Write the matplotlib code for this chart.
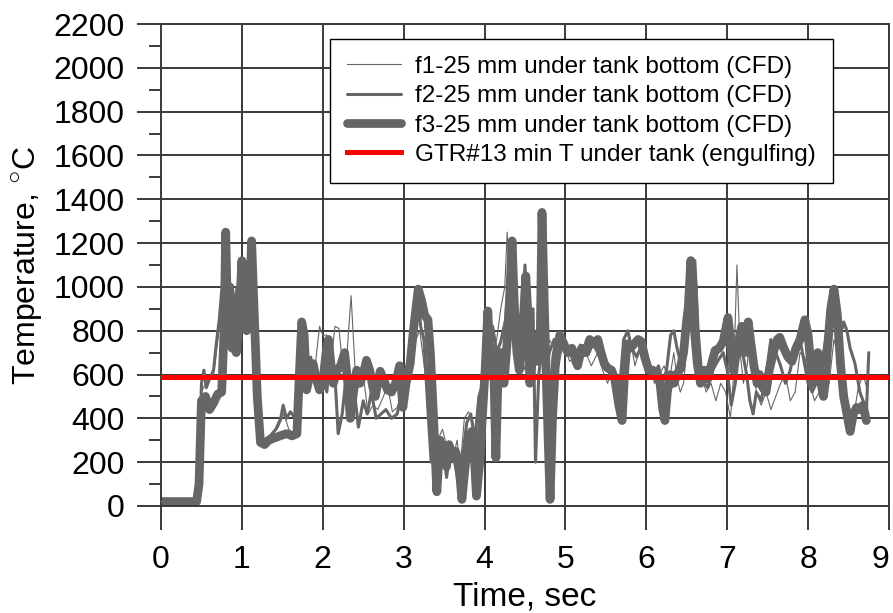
import matplotlib
matplotlib.use("Agg")
import matplotlib.pyplot as plt
from matplotlib.ticker import MultipleLocator

plt.rcParams["font.family"] = ["Liberation Sans", "DejaVu Sans"]
plt.rcParams["mathtext.fontset"] = "custom"
plt.rcParams["mathtext.rm"] = "Liberation Sans"

# ============================
# DATA
# ============================

f3_t = [0.00, 0.44, 0.47, 0.50, 0.55, 0.60, 0.65, 0.70, 0.75, 0.78, 0.80, 0.82, 0.85, 0.88, 0.90,
        0.93, 0.96, 1.00, 1.03, 1.06, 1.10, 1.12, 1.15, 1.19, 1.23, 1.28, 1.33, 1.40, 1.47, 1.55,
        1.62, 1.68, 1.71, 1.74, 1.77, 1.80, 1.84, 1.88, 1.92, 1.96, 2.00, 2.04, 2.07, 2.10, 2.13,
        2.18, 2.22, 2.27, 2.31, 2.34, 2.38, 2.42, 2.46, 2.50, 2.54, 2.58, 2.62, 2.65, 2.68, 2.71,
        2.75, 2.80, 2.85, 2.90, 2.95, 2.99, 3.03, 3.08, 3.12, 3.18, 3.22, 3.26, 3.30, 3.33, 3.37,
        3.41, 3.45, 3.49, 3.53, 3.56, 3.60, 3.64, 3.68, 3.72, 3.76, 3.80, 3.84, 3.87, 3.90, 3.94,
        3.98, 4.01, 4.04, 4.08, 4.11, 4.14, 4.17, 4.20, 4.24, 4.28, 4.31, 4.34, 4.37, 4.40, 4.43,
        4.46, 4.48, 4.51, 4.54, 4.56, 4.60, 4.63, 4.66, 4.69, 4.71, 4.74, 4.77, 4.81, 4.84, 4.88,
        4.93, 4.98, 5.03, 5.08, 5.12, 5.15, 5.20, 5.25, 5.30, 5.35, 5.40, 5.44, 5.48, 5.52, 5.57,
        5.61, 5.66, 5.70, 5.73, 5.76, 5.80, 5.85, 5.90, 5.94, 5.98, 6.03, 6.08, 6.13, 6.17, 6.20,
        6.23, 6.26, 6.30, 6.34, 6.38, 6.42, 6.46, 6.50, 6.52, 6.55, 6.58, 6.60, 6.63, 6.67, 6.72,
        6.76, 6.80, 6.85, 6.90, 6.95, 7.01, 7.04, 7.07, 7.10, 7.14, 7.18, 7.22, 7.26, 7.29, 7.33,
        7.37, 7.40, 7.44, 7.48, 7.52, 7.57, 7.62, 7.65, 7.70, 7.75, 7.80, 7.85, 7.90, 7.96, 8.00,
        8.03, 8.06, 8.09, 8.12, 8.16, 8.19, 8.21, 8.24, 8.28, 8.32, 8.36, 8.40, 8.44, 8.48, 8.52,
        8.56, 8.60, 8.64, 8.68, 8.72]
f3_T = [20, 20, 100, 480, 500, 440, 470, 510, 520, 800, 1250, 900, 1000, 720, 950,
        700, 820, 1120, 850, 800, 1000, 1210, 900, 500, 290, 280, 300, 310, 320, 330,
        320, 330, 600, 840, 780, 530, 600, 650, 580, 530, 560, 700, 760, 650, 560,
        620, 640, 700, 560, 400, 520, 620, 560, 600, 665, 620, 540, 500, 560, 615,
        580, 530, 520, 560, 640, 450, 560, 650, 800, 990, 940, 870, 850, 700, 400,
        65, 300, 220, 180, 280, 230, 250, 200, 30, 180, 300, 340, 250, 45, 200,
        450, 640, 890, 600, 700, 220, 650, 700, 560, 750, 950, 1210, 900, 700, 620,
        720, 850, 1050, 850, 560, 700, 780, 660, 800, 1340, 900, 500, 30, 400, 680,
        780, 740, 700, 720, 680, 640, 720, 700, 760, 740, 760, 700, 650, 630, 620,
        580, 460, 390, 600, 740, 720, 740, 760, 750, 680, 620, 620, 590, 560, 450,
        390, 520, 600, 560, 600, 630, 700, 850, 910, 1120, 1000, 780, 650, 560, 620,
        580, 640, 710, 720, 750, 860, 760, 620, 680, 750, 820, 700, 840, 750, 640,
        560, 600, 540, 520, 620, 700, 760, 770, 720, 680, 660, 720, 760, 850, 780,
        660, 560, 620, 700, 560, 500, 560, 720, 900, 990, 880, 650, 500, 420, 340,
        420, 450, 440, 460, 390]

f2_t = [0.00, 0.44, 0.47, 0.50, 0.53, 0.56, 0.60, 0.65, 0.68, 0.72, 0.75, 0.78, 0.82, 0.86, 0.90,
        0.94, 0.98, 1.02, 1.06, 1.10, 1.13, 1.18, 1.23, 1.28, 1.35, 1.42, 1.48, 1.51, 1.55, 1.60,
        1.66, 1.70, 1.73, 1.76, 1.80, 1.85, 1.90, 1.95, 2.00, 2.05, 2.10, 2.15, 2.19, 2.24, 2.28,
        2.33, 2.38, 2.44, 2.50, 2.55, 2.60, 2.66, 2.72, 2.78, 2.85, 2.92, 2.98, 3.03, 3.08, 3.12,
        3.17, 3.21, 3.25, 3.30, 3.34, 3.38, 3.43, 3.48, 3.53, 3.58, 3.63, 3.68, 3.72, 3.78, 3.83,
        3.88, 3.93, 3.98, 4.02, 4.06, 4.10, 4.15, 4.20, 4.26, 4.30, 4.35, 4.40, 4.45, 4.50, 4.55,
        4.60, 4.63, 4.67, 4.72, 4.76, 4.80, 4.86, 4.92, 4.98, 5.05, 5.10, 5.16, 5.22, 5.28, 5.34,
        5.40, 5.45, 5.50, 5.56, 5.62, 5.68, 5.72, 5.77, 5.82, 5.88, 5.95, 6.00, 6.05, 6.10, 6.15,
        6.20, 6.25, 6.30, 6.34, 6.38, 6.42, 6.46, 6.50, 6.55, 6.60, 6.64, 6.68, 6.72, 6.76, 6.82,
        6.88, 6.95, 7.00, 7.05, 7.10, 7.15, 7.20, 7.24, 7.28, 7.32, 7.36, 7.42, 7.48, 7.54, 7.60,
        7.66, 7.72, 7.78, 7.84, 7.90, 7.95, 8.00, 8.05, 8.10, 8.15, 8.20, 8.26, 8.30, 8.35, 8.40,
        8.44, 8.48, 8.52, 8.58, 8.64, 8.68, 8.72, 8.75]
f2_T = [20, 20, 150, 560, 620, 540, 580, 620, 730, 850, 980, 1000, 920, 960, 880,
        1000, 880, 980, 900, 1100, 980, 600, 320, 300, 320, 350, 400, 460, 400, 430,
        400, 580, 800, 700, 620, 680, 560, 560, 600, 520, 720, 600, 330, 420, 560,
        400, 560, 360, 480, 420, 520, 400, 420, 440, 400, 420, 520, 580, 600, 850,
        990, 820, 760, 440, 200, 380, 280, 300, 130, 260, 200, 100, 200, 380, 420,
        300, 500, 560, 800, 600, 820, 700, 750, 850, 1050, 780, 640, 800, 1100, 620,
        900, 200, 600, 750, 620, 700, 760, 700, 740, 720, 650, 700, 720, 690, 740,
        700, 660, 640, 600, 520, 580, 760, 800, 720, 680, 740, 700, 620, 600, 640,
        560, 620, 780, 800, 720, 660, 620, 780, 860, 1120, 800, 620, 560, 540, 620,
        660, 700, 620, 460, 560, 720, 680, 600, 480, 420, 520, 480, 600, 760, 700,
        640, 560, 620, 740, 760, 660, 560, 520, 560, 620, 720, 860, 960, 820, 780,
        840, 800, 720, 650, 520, 480, 420, 700]

f1_t = [0.00, 0.44, 0.47, 0.50, 0.55, 0.60, 0.65, 0.70, 0.75, 0.80, 0.85, 0.90, 0.95, 1.00, 1.05,
        1.10, 1.14, 1.18, 1.24, 1.30, 1.38, 1.45, 1.52, 1.58, 1.64, 1.70, 1.74, 1.78, 1.82, 1.86,
        1.90, 1.96, 2.00, 2.05, 2.10, 2.15, 2.20, 2.25, 2.30, 2.35, 2.40, 2.45, 2.50, 2.56, 2.62,
        2.68, 2.75, 2.80, 2.86, 2.92, 2.98, 3.05, 3.10, 3.15, 3.20, 3.25, 3.30, 3.36, 3.42, 3.48,
        3.54, 3.60, 3.66, 3.70, 3.75, 3.80, 3.86, 3.92, 3.97, 4.02, 4.06, 4.10, 4.15, 4.20, 4.25,
        4.28, 4.32, 4.38, 4.44, 4.50, 4.55, 4.60, 4.65, 4.70, 4.75, 4.80, 4.86, 4.92, 4.98, 5.05,
        5.12, 5.18, 5.25, 5.32, 5.40, 5.46, 5.52, 5.58, 5.64, 5.70, 5.75, 5.80, 5.86, 5.92, 5.98,
        6.05, 6.10, 6.16, 6.22, 6.28, 6.34, 6.38, 6.42, 6.46, 6.52, 6.56, 6.60, 6.64, 6.68, 6.74,
        6.80, 6.86, 6.92, 6.98, 7.04, 7.08, 7.12, 7.16, 7.20, 7.25, 7.28, 7.32, 7.36, 7.42, 7.48,
        7.54, 7.60, 7.66, 7.72, 7.78, 7.84, 7.90, 7.96, 8.02, 8.08, 8.14, 8.20, 8.26, 8.32, 8.38,
        8.44, 8.50, 8.56, 8.62, 8.68, 8.74]
f1_T = [20, 20, 150, 520, 560, 580, 600, 750, 900, 950, 1000, 900, 960, 880, 920,
        1000, 900, 560, 300, 310, 330, 360, 420, 350, 330, 560, 780, 650, 640, 560,
        620, 820, 780, 780, 640, 820, 810, 620, 700, 960, 620, 580, 600, 420, 460,
        440, 500, 550, 430, 450, 520, 560, 700, 760, 800, 650, 500, 420, 300, 350,
        260, 200, 300, 180, 400, 430, 380, 150, 420, 600, 780, 680, 760, 900, 1000,
        1250, 950, 780, 720, 620, 700, 800, 760, 700, 660, 760, 720, 640, 760, 660,
        680, 740, 700, 640, 700, 620, 560, 620, 560, 500, 700, 760, 640, 720, 700,
        640, 560, 600, 640, 560, 700, 580, 520, 560, 800, 1000, 900, 700, 600, 520,
        560, 480, 560, 520, 400, 600, 1100, 700, 560, 650, 850, 640, 520, 460, 520,
        440, 500, 560, 600, 480, 520, 700, 680, 560, 480, 520, 640, 560, 760, 680,
        540, 460, 400, 540, 600, 520]

gtr_T = 590

x_ticks = [0, 1, 2, 3, 4, 5, 6, 7, 8, 9]

labels = ["f1-25 mm under tank bottom (CFD)",
          "f2-25 mm under tank bottom (CFD)",
          "f3-25 mm under tank bottom (CFD)",
          "GTR#13 min T under tank (engulfing)"]

# ============================
# PLOT
# ============================

fig = plt.figure(figsize=(8.93, 6.13), dpi=100)
ax = fig.add_axes([0.1803, 0.1746, 0.8152, 0.7862])

grey = "#666666"
ax.plot(f1_t, f1_T, color=grey, lw=0.8, label=labels[0], zorder=4)
ax.plot(f2_t, f2_T, color=grey, lw=2.2, label=labels[1], zorder=3,
        solid_joinstyle="round", solid_capstyle="round")
ax.plot(f3_t, f3_T, color=grey, lw=6.3, label=labels[2], zorder=2,
        solid_joinstyle="round", solid_capstyle="round")
ax.axhline(gtr_T, color="red", lw=3.6, label=labels[3], zorder=5)

ax.set_xlim(0, 9)
ax.set_ylim(0, 2200)
ax.set_xticks(x_ticks)
ax.set_xticklabels([str(v) for v in x_ticks])
ax.yaxis.set_major_locator(MultipleLocator(200))
ax.yaxis.set_minor_locator(MultipleLocator(100))

ax.grid(True, which="major", color="#3a3a3a", lw=1.4)
for s in ax.spines.values():
    s.set_color("#3a3a3a")
    s.set_linewidth(1.4)

ax.tick_params(axis="both", which="major", direction="out", length=17,
               width=1.4, color="#3a3a3a", labelsize=23)
ax.tick_params(axis="x", which="major", pad=11)
ax.tick_params(axis="y", which="major", pad=9)
ax.tick_params(axis="y", which="minor", direction="out", length=8.6,
               width=1.4, color="#3a3a3a")

# keep the last x label inside the figure
ax.get_xticklabels()[-1].set_horizontalalignment("right")

ax.set_xlabel("Time, sec", fontsize=24, labelpad=5)
ax.set_ylabel("Temperature, $^{\\bigcirc}$C", fontsize=23, labelpad=6)

leg = ax.legend(loc="upper right", bbox_to_anchor=(0.923, 0.969), borderaxespad=0,
                fontsize=17.5, fancybox=False, framealpha=1, edgecolor="black",
                handlelength=2.2, labelspacing=0.3, borderpad=0.7, handletextpad=0.6)
leg.get_frame().set_linewidth(1.0)

fig.savefig("out.png", dpi=100)
